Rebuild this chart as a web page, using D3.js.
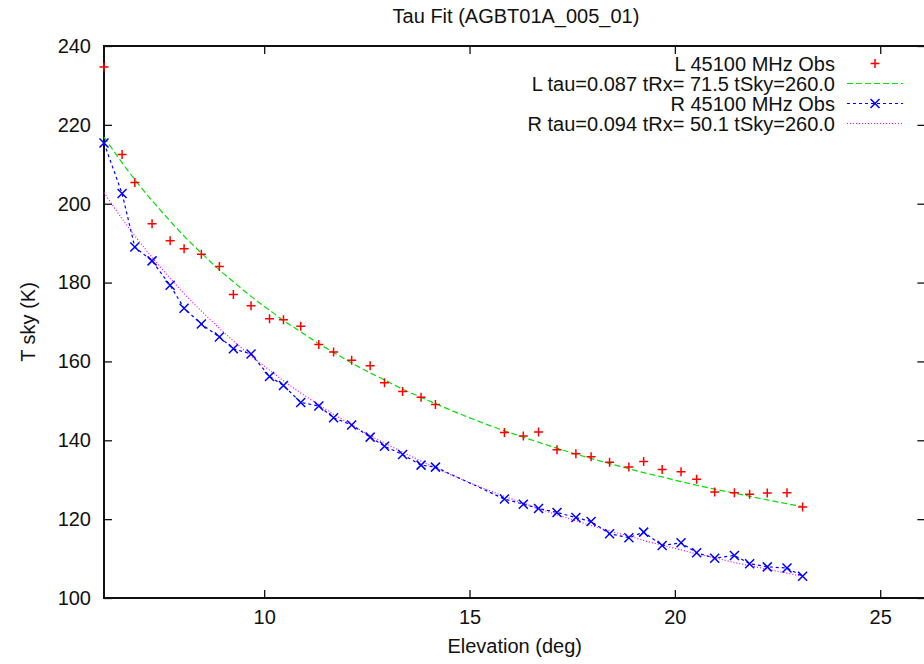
<!DOCTYPE html>
<html>
<head>
<meta charset="utf-8">
<script src="https://cdn.jsdelivr.net/npm/d3@7"></script>
<style>
  html, body { margin: 0; padding: 0; background: #fff; }
  svg { display: block; }
  text { font-family: "Liberation Sans", Arial, Helvetica, sans-serif; fill: #111; }
</style>
</head>
<body>
<svg id="chart" width="924" height="664"></svg>
<script>
// ---------------- data ----------------
const titleText = "Tau Fit (AGBT01A_005_01)";
const xLabel = "Elevation (deg)";
const yLabel = "T sky (K)";

const xTicks = [10, 15, 20, 25];
const yTicks = [100, 120, 140, 160, 180, 200, 220, 240];

const elevation = [6.10, 6.54, 6.85, 7.27, 7.71, 8.05, 8.47, 8.91, 9.25, 9.68,
  10.13, 10.47, 10.89, 11.33, 11.69, 12.13, 12.58, 12.93, 13.37, 13.82, 14.17,
  15.85, 16.31, 16.68, 17.13, 17.59, 17.96, 18.41, 18.88, 19.24, 19.69, 20.15,
  20.53, 20.97, 21.45, 21.82, 22.25, 22.73, 23.11];

const lObs = [234.7, 212.5, 205.4, 194.9, 190.6, 188.6, 187.2, 184.1, 177.0, 174.1,
  170.8, 170.6, 168.9, 164.3, 162.4, 160.3, 158.9, 154.6, 152.4, 150.9, 149.1,
  142.0, 141.1, 142.1, 137.6, 136.6, 135.8, 134.4, 133.2, 134.6, 132.6, 132.0,
  130.1, 126.9, 126.7, 126.3, 126.6, 126.7, 123.1];

const lFit = [216.9, 210.4, 206.1, 200.8, 195.6, 191.8, 187.5, 183.2, 180.2, 176.5,
  173.0, 170.4, 167.5, 164.5, 162.3, 159.6, 157.1, 155.3, 153.0, 150.9, 149.3,
  142.4, 140.8, 139.5, 138.0, 136.5, 135.4, 134.1, 132.8, 131.8, 130.7, 129.5,
  128.6, 127.6, 126.6, 125.8, 124.9, 123.9, 123.2];

const rObs = [215.4, 202.6, 189.0, 185.5, 179.3, 173.5, 169.5, 166.2, 163.2, 161.9,
  156.2, 153.9, 149.6, 148.7, 145.7, 143.9, 140.8, 138.5, 136.4, 133.7, 133.2,
  125.1, 123.8, 122.7, 121.7, 120.4, 119.4, 116.3, 115.3, 116.7, 113.3, 114.0,
  111.5, 110.1, 110.8, 108.7, 107.9, 107.6, 105.5];

const rFit = [202.8, 196.2, 191.9, 186.4, 181.1, 177.2, 172.8, 168.4, 165.2, 161.4,
  157.8, 155.1, 152.0, 149.0, 146.6, 143.9, 141.2, 139.3, 137.0, 134.7, 133.0,
  125.8, 124.1, 122.7, 121.1, 119.6, 118.4, 117.0, 115.7, 114.6, 113.4, 112.2,
  111.2, 110.2, 109.0, 108.2, 107.3, 106.3, 105.5];

const legendLabels = [
  "L 45100 MHz Obs",
  "L tau=0.087 tRx= 71.5 tSky=260.0",
  "R 45100 MHz Obs",
  "R tau=0.094 tRx= 50.1 tSky=260.0"
];

// ---------------- layout ----------------
const pL = 104, pT = 46, pB = 598, pR = 925.4;
const svg = d3.select("#chart");

const x = d3.scaleLinear().domain([6.1, 26.1]).range([pL, pR]);
const y = d3.scaleLinear().domain([100, 240]).range([pB, pT]);

const RED = "#ff0000", GREEN = "#00e000", BLUE = "#0000ff", MAGENTA = "#ff00ff";
const FS = 20;
const FF = '"Liberation Sans", Arial, sans-serif';

// ticks (inward, mirrored) via d3 axes
const tickLen = 8;
svg.append("g").attr("transform", `translate(0,${pB})`)
  .call(d3.axisBottom(x).tickValues(xTicks).tickSizeInner(-tickLen).tickSizeOuter(0).tickPadding(12).tickFormat(d3.format("d")))
  .call(g => g.select(".domain").remove())
  .call(g => g.selectAll("line").attr("stroke", "#111").attr("stroke-width", 1.3))
  .call(g => g.selectAll("text").attr("font-size", FS).attr("fill", "#111")
      .attr("font-family", FF).attr("dy", "0.71em"));

svg.append("g").attr("transform", `translate(0,${pT})`)
  .call(d3.axisTop(x).tickValues(xTicks).tickSizeInner(-tickLen).tickSizeOuter(0).tickFormat(""))
  .call(g => g.select(".domain").remove())
  .call(g => g.selectAll("line").attr("stroke", "#111").attr("stroke-width", 1.3));

svg.append("g").attr("transform", `translate(${pL},0)`)
  .call(d3.axisLeft(y).tickValues(yTicks).tickSizeInner(-tickLen).tickSizeOuter(0).tickPadding(13).tickFormat(d3.format("d")))
  .call(g => g.select(".domain").remove())
  .call(g => g.selectAll("line").attr("stroke", "#111").attr("stroke-width", 1.3))
  .call(g => g.selectAll("text").attr("font-size", FS).attr("fill", "#111")
      .attr("font-family", FF));

svg.append("g").attr("transform", `translate(${pR},0)`)
  .call(d3.axisRight(y).tickValues(yTicks).tickSizeInner(-tickLen).tickSizeOuter(0).tickFormat(""))
  .call(g => g.select(".domain").remove())
  .call(g => g.selectAll("line").attr("stroke", "#111").attr("stroke-width", 1.3));

// border
svg.append("rect").attr("x", pL).attr("y", pT)
  .attr("width", pR - pL).attr("height", pB - pT)
  .attr("fill", "none").attr("stroke", "#111").attr("stroke-width", 2);

// titles
svg.append("text").attr("x", 516).attr("y", 23).attr("text-anchor", "middle")
  .attr("font-size", FS).text(titleText);
svg.append("text").attr("x", (pL + pR) / 2).attr("y", 653).attr("text-anchor", "middle")
  .attr("font-size", FS).text(xLabel);
svg.append("text").attr("transform", `translate(35,${(pT + pB) / 2}) rotate(-90)`)
  .attr("text-anchor", "middle").attr("font-size", FS).text(yLabel);

// data
const lObsData = elevation.map((e, i) => [e, lObs[i]]);
const lFitData = elevation.map((e, i) => [e, lFit[i]]);
const rObsData = elevation.map((e, i) => [e, rObs[i]]);
const rFitData = elevation.map((e, i) => [e, rFit[i]]);

const smooth = d3.line().x(d => x(d[0])).y(d => y(d[1])).curve(d3.curveMonotoneX);
const straight = d3.line().x(d => x(d[0])).y(d => y(d[1]));

const plot = svg.append("g");

plot.append("path").attr("d", smooth(rFitData)).attr("fill", "none")
  .attr("stroke", MAGENTA).attr("stroke-width", 1.2).attr("stroke-dasharray", "1,2");
plot.append("path").attr("d", smooth(lFitData)).attr("fill", "none")
  .attr("stroke", GREEN).attr("stroke-width", 1.2).attr("stroke-dasharray", "6,3");
plot.append("path").attr("d", straight(rObsData)).attr("fill", "none")
  .attr("stroke", BLUE).attr("stroke-width", 1.2).attr("stroke-dasharray", "3,3");

const ps = 4.5;
function plus(g, cx, cy, color) {
  g.append("path").attr("d", `M${cx - ps},${cy}H${cx + ps}M${cx},${cy - ps}V${cy + ps}`)
    .attr("stroke", color).attr("stroke-width", 1.5).attr("fill", "none");
}
function cross(g, cx, cy, color) {
  g.append("path").attr("d", `M${cx - ps},${cy - ps}L${cx + ps},${cy + ps}M${cx - ps},${cy + ps}L${cx + ps},${cy - ps}`)
    .attr("stroke", color).attr("stroke-width", 1.5).attr("fill", "none");
}
lObsData.forEach(d => plus(plot, x(d[0]), y(d[1]), RED));
rObsData.forEach(d => cross(plot, x(d[0]), y(d[1]), BLUE));

// legend
const legTextX = 835, sampleX0 = 847, sampleX1 = 903, symX = 875;
const legY = i => 63.5 + 20 * i;
const leg = svg.append("g");
legendLabels.forEach((t, i) => {
  leg.append("text").attr("x", legTextX).attr("y", legY(i)).attr("dy", "0.36em")
    .attr("text-anchor", "end").attr("font-size", FS).text(t);
});
plus(leg, symX, legY(0), RED);
leg.append("line").attr("x1", sampleX0).attr("x2", sampleX1).attr("y1", legY(1)).attr("y2", legY(1))
  .attr("stroke", GREEN).attr("stroke-width", 1.2).attr("stroke-dasharray", "6,3");
leg.append("line").attr("x1", sampleX0).attr("x2", sampleX1).attr("y1", legY(2)).attr("y2", legY(2))
  .attr("stroke", BLUE).attr("stroke-width", 1.2).attr("stroke-dasharray", "3,3");
cross(leg, symX, legY(2), BLUE);
leg.append("line").attr("x1", sampleX0).attr("x2", sampleX1).attr("y1", legY(3)).attr("y2", legY(3))
  .attr("stroke", MAGENTA).attr("stroke-width", 1.2).attr("stroke-dasharray", "1,2");
</script>
</body>
</html>
